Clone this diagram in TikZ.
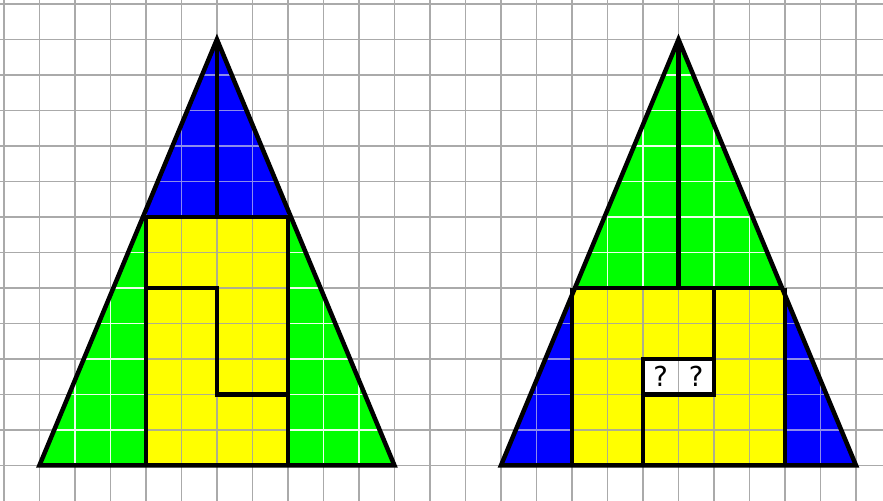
\documentclass[tikz,border=0pt]{standalone}
\usepackage{fontspec}
\newfontfamily\qfont{DejaVu Sans}
\usetikzlibrary{positioning, calc}

\definecolor{gridgray}{RGB}{170,170,170}
\definecolor{pblue}{RGB}{0,0,255}
\definecolor{pgreen}{RGB}{0,255,0}
\definecolor{pyellow}{RGB}{255,255,0}
\definecolor{onblue}{RGB}{140,140,235}
\definecolor{ongreen}{RGB}{235,255,235}
\definecolor{onyellow}{RGB}{175,175,140}

\newcommand{\cellgrid}[2]{\begin{scope}\clip #2; \draw[draw=#1, line width=1.4pt] (-1,-1) grid (24,13);\end{scope}}

\begin{document}
\begin{tikzpicture}[
  edge/.style={draw=black, line width=3.6pt},
  qmark/.style={font=\qfont\fontsize{22}{22}\selectfont, inner sep=0pt}
  ]
  \useasboundingbox (-1.11,-0.99) rectangle (23.76,13.11);
  \draw[draw=gridgray, line width=1.4pt] (-1.11,-0.99) grid (23.76,13.11);

  % left triangle
  \coordinate (la) at (0,0);
  \coordinate (lb) at (10,0);
  \coordinate (lt) at (5,12);
  \coordinate (lm) at ($(la)!7/12!(lt)$);
  \coordinate (ln) at ($(lb)!7/12!(lt)$);
  \begin{scope}
    \clip (la) -- (lb) -- (lt) -- cycle;
    \fill[pgreen] (la) -- (lb) -- (lt) -- cycle;
    \fill[pblue] (0,7) rectangle (10,12);
    \fill[pyellow] (3,0) rectangle (7,7);
    \cellgrid{ongreen}{(0,0) rectangle (10,7)}
    \cellgrid{onblue}{(0,7) rectangle (10,12)}
    \cellgrid{onyellow}{(3,0) rectangle (7,7)}
  \end{scope}
  \draw[edge] (la) -- (lb) -- (lt) -- cycle;
  \draw[edge] (lt) -- (5,7);
  \draw[edge] (lm) -- (ln);
  \draw[edge] (3,7) -- (3,0);
  \draw[edge] (7,7) -- (7,0);
  \draw[edge] (3,5) -- (5,5) -- (5,2) -- (7,2);

  % right triangle
  \coordinate (ra) at (13,0);
  \coordinate (rb) at (23,0);
  \coordinate (rt) at (18,12);
  \coordinate (rm) at ($(ra)!5/12!(rt)$);
  \coordinate (rn) at ($(rb)!5/12!(rt)$);
  \begin{scope}
    \clip (ra) -- (rb) -- (rt) -- cycle;
    \fill[pblue] (ra) -- (rb) -- (rt) -- cycle;
    \fill[pgreen] (13,5) rectangle (23,12);
    \fill[pyellow] (15,0) rectangle (21,5);
    \cellgrid{onblue}{(13,0) rectangle (23,5)}
    \cellgrid{ongreen}{(13,5) rectangle (23,12)}
    \cellgrid{onyellow}{(15,0) rectangle (21,5)}
  \end{scope}
  \fill[white] (17,2) rectangle (19,3);
  \draw[draw=gridgray, line width=1.4pt] (18,2) -- (18,3);
  \node[qmark] (q1) at (17.5,2.5) {?};
  \node[qmark] (q2) at (18.5,2.5) {?};
  \draw[edge] (ra) -- (rb) -- (rt) -- cycle;
  \draw[edge] (rt) -- (18,5);
  \draw[edge] (rm) -- (rn);
  \draw[edge] (15,5) -- (15,0);
  \draw[edge] (21,5) -- (21,0);
  \draw[edge] (19,5) -- (19,2) -- (17,2);
  \draw[edge] (17,0) -- (17,3) -- (19,3);
\end{tikzpicture}
\end{document}
